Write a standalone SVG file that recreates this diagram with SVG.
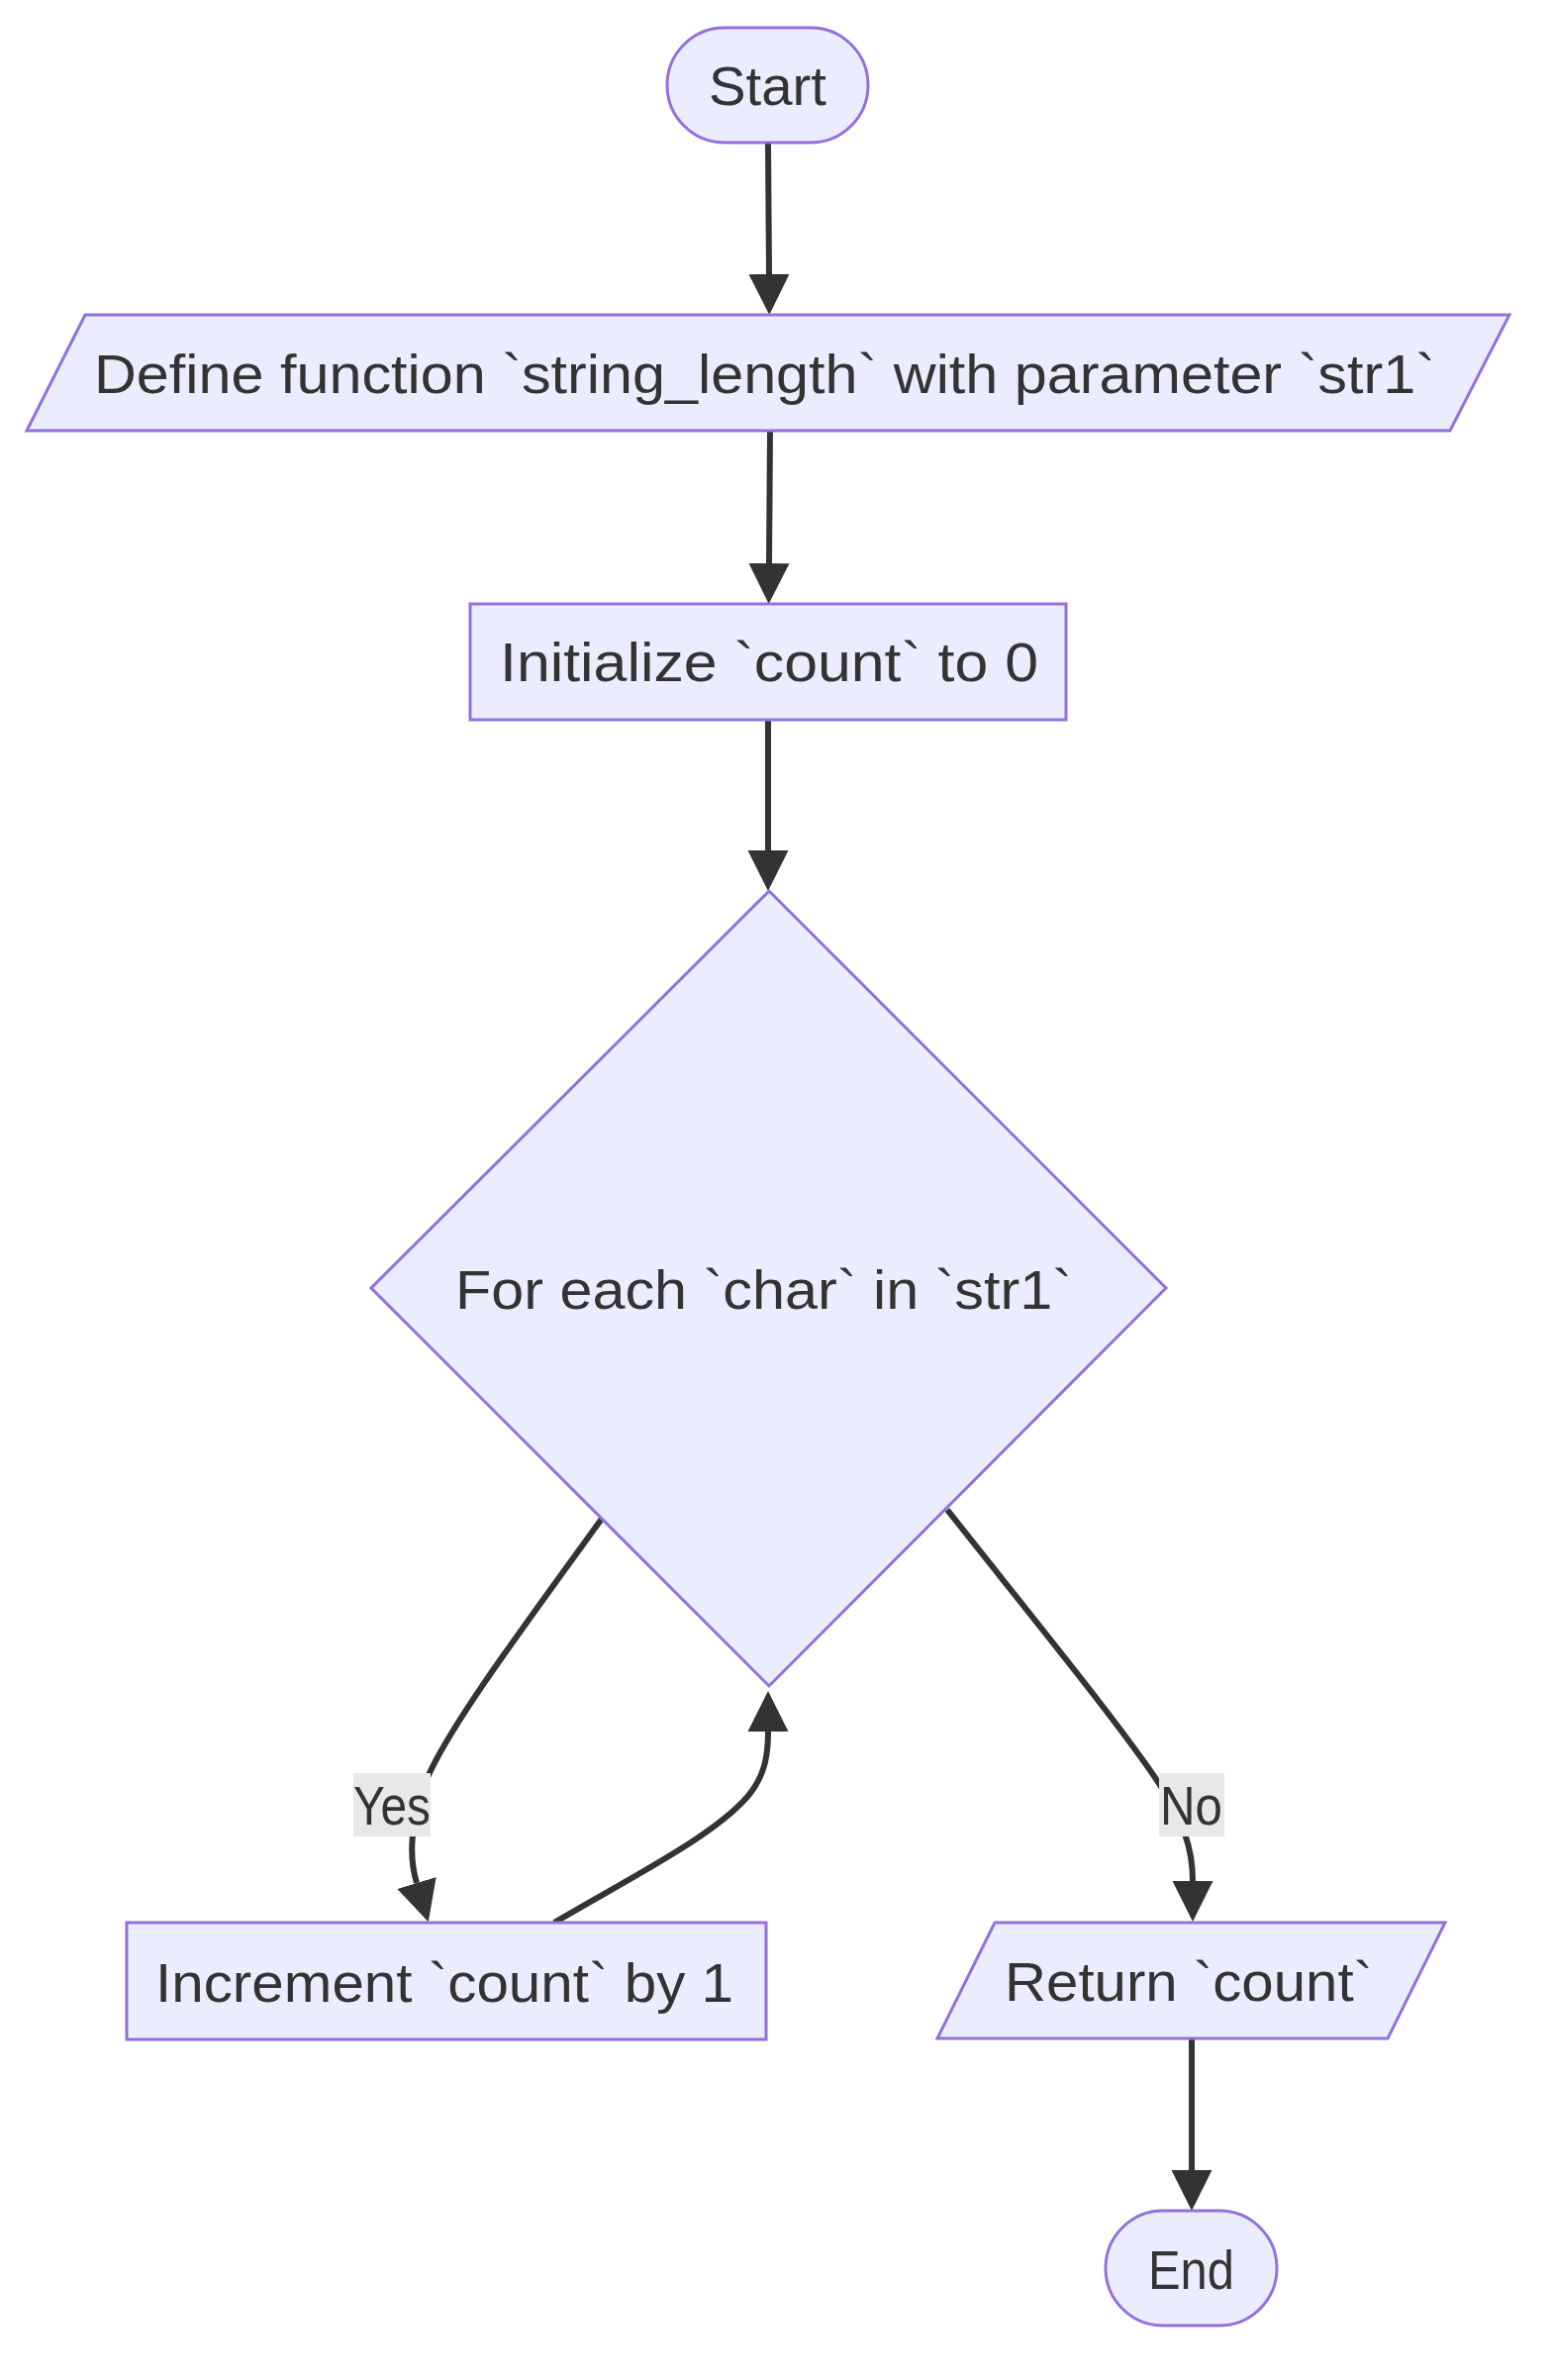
<svg xmlns="http://www.w3.org/2000/svg" width="1568" height="2404" viewBox="0 0 1568 2404">
<style>
.node { fill: #ECECFF; stroke: #9370DB; stroke-width: 3; }
.edge { fill: none; stroke: #333333; stroke-width: 6; }
.lbl { font-family: "Liberation Sans", Arial, sans-serif; font-size: 56px; fill: #333333; }
.lblbg { fill: #e8e8e8; }
</style>
<defs>
<marker id="arrow" viewBox="0 0 10 10" refX="0" refY="5" markerWidth="41" markerHeight="42" markerUnits="userSpaceOnUse" orient="auto">
<path d="M0,0 L10,5 L0,10 z" fill="#333333"/>
</marker>
</defs>
<rect width="1568" height="2404" fill="#ffffff"/>
<g id="edges">
<path class="edge" d="M776,145 L777,277" marker-end="url(#arrow)"/>
<path class="edge" d="M778,436 L777,569" marker-end="url(#arrow)"/>
<path class="edge" d="M776,727 L776,859" marker-end="url(#arrow)"/>
<path class="edge" d="M608,1534 C520,1655 450,1750 430,1800 C416,1840 412,1872 421,1902" marker-end="url(#arrow)"/>
<path class="edge" d="M560,1942 C640,1895 720,1855 755,1815 C772,1795 776,1775 776,1749" marker-end="url(#arrow)"/>
<path class="edge" d="M957,1525 C1040,1630 1130,1740 1170,1800 C1195,1840 1205,1865 1205,1900" marker-end="url(#arrow)"/>
<path class="edge" d="M1204,2059 L1204,2192" marker-end="url(#arrow)"/>
</g>
<g id="edge-labels">
<g id="label-yes">
<rect class="lblbg" x="357" y="1791" width="78" height="64"/>
<text class="lbl" x="357" y="1843" textLength="78" lengthAdjust="spacingAndGlyphs">Yes</text>
</g>
<g id="label-no">
<rect class="lblbg" x="1171" y="1791" width="66" height="64"/>
<text class="lbl" x="1172" y="1843" textLength="63" lengthAdjust="spacingAndGlyphs">No</text>
</g>
</g>
<g id="node-start">
<rect class="node" x="674" y="28" width="203" height="116" rx="58" ry="58"/>
<text class="lbl" x="716" y="106" textLength="119" lengthAdjust="spacingAndGlyphs">Start</text>
</g>
<g id="node-define">
<polygon class="node" points="86,318 1525,318 1465,435 27,435"/>
<text class="lbl" x="95" y="397" textLength="1355" lengthAdjust="spacingAndGlyphs">Define function `string_length` with parameter `str1`</text>
</g>
<g id="node-init">
<rect class="node" x="475" y="610" width="602" height="117"/>
<text class="lbl" x="505" y="688" textLength="544" lengthAdjust="spacingAndGlyphs">Initialize `count` to 0</text>
</g>
<g id="node-loop">
<polygon class="node" points="777,900 1178,1301 777,1703 375,1301"/>
<text class="lbl" x="460" y="1322" textLength="623" lengthAdjust="spacingAndGlyphs">For each `char` in `str1`</text>
</g>
<g id="node-increment">
<rect class="node" x="128" y="1942" width="646" height="118"/>
<text class="lbl" x="157" y="2022" textLength="584" lengthAdjust="spacingAndGlyphs">Increment `count` by 1</text>
</g>
<g id="node-return">
<polygon class="node" points="1005,1942 1460,1942 1402,2059 947,2059"/>
<text class="lbl" x="1015" y="2021" textLength="372" lengthAdjust="spacingAndGlyphs">Return `count`</text>
</g>
<g id="node-end">
<rect class="node" x="1117" y="2233" width="173" height="116" rx="58" ry="58"/>
<text class="lbl" x="1160" y="2312" textLength="87" lengthAdjust="spacingAndGlyphs">End</text>
</g>
</svg>
